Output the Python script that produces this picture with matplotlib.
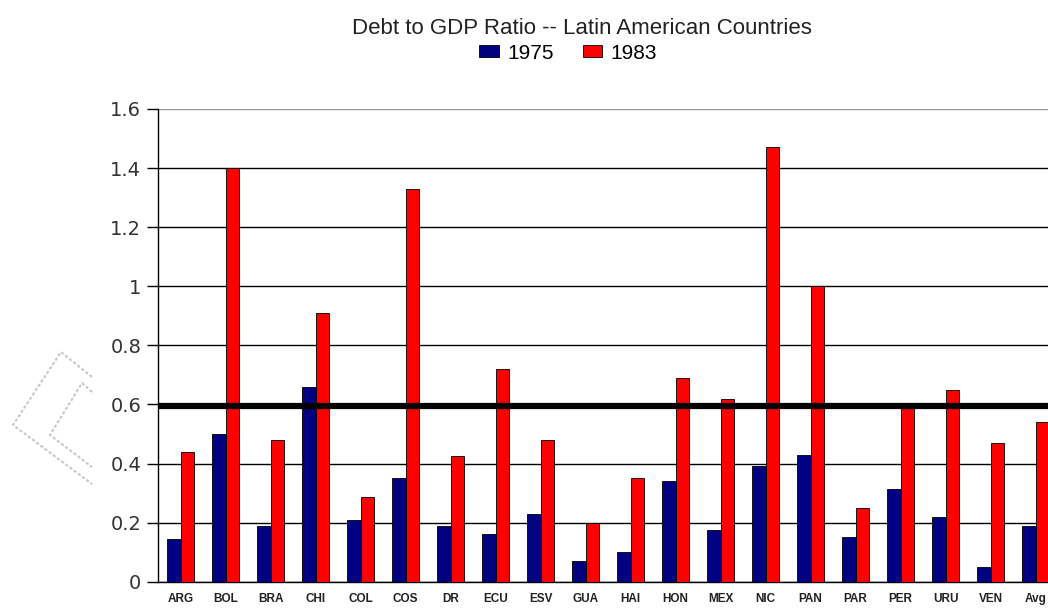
import matplotlib.pyplot as plt
from matplotlib.patches import Patch
import numpy as np

plt.rcParams['font.family'] = ['Liberation Sans', 'DejaVu Sans']

# --- data ---
countries = ['ARG', 'BOL', 'BRA', 'CHI', 'COL', 'COS', 'DR', 'ECU', 'ESV', 'GUA',
             'HAI', 'HON', 'MEX', 'NIC', 'PAN', 'PAR', 'PER', 'URU', 'VEN', 'Avg']
debt_1975 = [0.145, 0.50, 0.19, 0.66, 0.21, 0.35, 0.19, 0.16, 0.23, 0.07,
             0.10, 0.34, 0.175, 0.39, 0.43, 0.15, 0.315, 0.22, 0.05, 0.19]
debt_1983 = [0.44, 1.40, 0.48, 0.91, 0.285, 1.33, 0.425, 0.72, 0.48, 0.20,
             0.35, 0.69, 0.62, 1.47, 1.00, 0.25, 0.59, 0.65, 0.47, 0.54]
threshold = 0.595
y_ticks = [0, 0.2, 0.4, 0.6, 0.8, 1, 1.2, 1.4, 1.6]
y_tick_labels = ['0', '0.2', '0.4', '0.6', '0.8', '1', '1.2', '1.4', '1.6']

fig = plt.figure(figsize=(10.48, 6.10), dpi=100)
ax = fig.add_axes([0.1508, 0.0464, 0.8588, 0.775])

x = np.arange(len(countries))
w = 0.3
ax.bar(x - w / 2, debt_1975, w, color='#000080', edgecolor='black', linewidth=0.6, zorder=3)
ax.bar(x + w / 2, debt_1983, w, color='#ff0000', edgecolor='black', linewidth=0.6, zorder=3)

ax.set_xlim(-0.5, len(countries) - 0.5)
ax.set_ylim(0, 1.6)
ax.set_yticks(y_ticks)
ax.set_yticklabels(y_tick_labels, fontsize=14, color='#333333', family='DejaVu Sans')
ax.set_xticks(x)
ax.set_xticklabels(countries, fontsize=8.5, fontweight='bold', color='#222222')
ax.tick_params(axis='x', length=0, pad=8)
ax.tick_params(axis='y', length=8, width=1, color='black', pad=4)

ax.grid(axis='y', color='black', linewidth=1, zorder=0)
ax.set_axisbelow(True)
ax.get_ygridlines()[-1].set_color('#999999')

for side in ['top', 'right']:
    ax.spines[side].set_visible(False)
ax.spines['left'].set_linewidth(1)
ax.spines['bottom'].set_linewidth(1)

# thick reference line
ax.axhline(threshold, color='black', linewidth=4.5, zorder=4)

# faint dotted chevrons on the left margin
outer = [(92, 377), (61, 352), (13, 425), (92, 484)]
inner = [(92, 392), (82, 383), (50, 435), (92, 467)]
for pts in (outer, inner):
    xs = [p[0] / 1048 for p in pts]
    ys = [1 - p[1] / 610 for p in pts]
    fig.add_artist(plt.Line2D(xs, ys, color='#c8c8c8', linewidth=1.5,
                              linestyle=(0, (1.5, 1)), transform=fig.transFigure))

fig.text(0.555, 0.953, 'Debt to GDP Ratio -- Latin American Countries',
         ha='center', va='center', fontsize=16, color='#222222')
handles = [Patch(facecolor='#000080', edgecolor='black', linewidth=0.6, label='1975'),
           Patch(facecolor='#ff0000', edgecolor='black', linewidth=0.6, label='1983')]
fig.legend(handles=handles, loc='center', bbox_to_anchor=(0.542, 0.913), ncol=2,
           frameon=False, fontsize=15, handlelength=0.95, handleheight=0.5,
           handletextpad=0.4, columnspacing=1.4, borderpad=0)

fig.savefig('out.png', dpi=100)
